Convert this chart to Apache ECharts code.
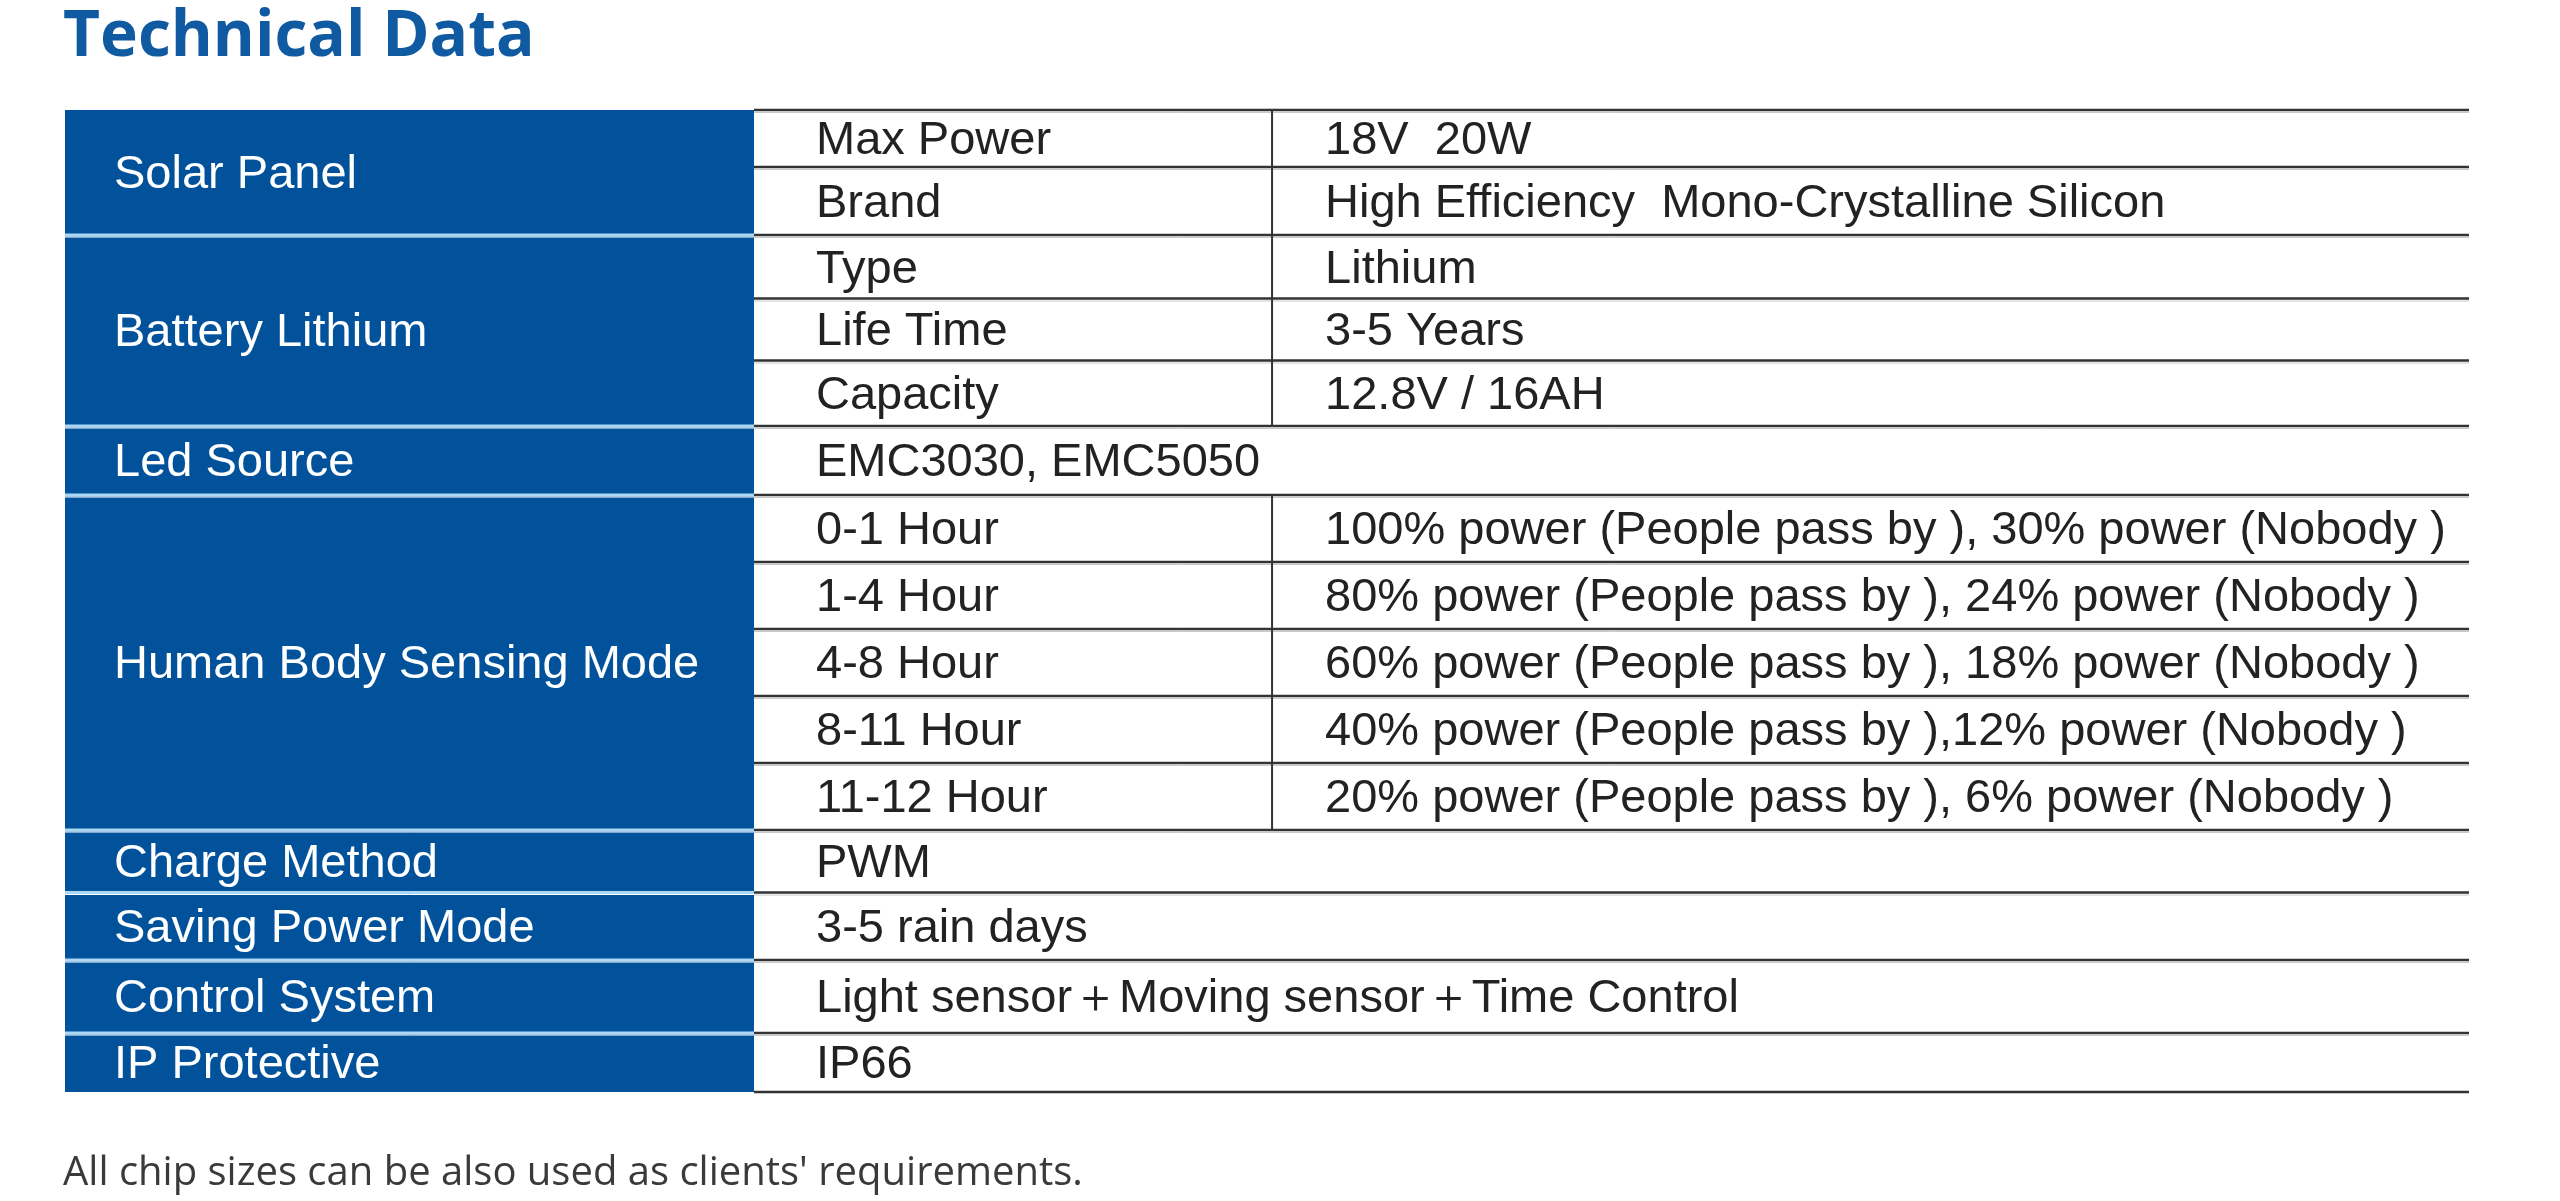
<!DOCTYPE html>
<html>
<head>
<meta charset="utf-8">
<title>Technical Data</title>
<script src="https://cdn.jsdelivr.net/npm/echarts@6/dist/echarts.min.js"></script>
<style>
  html, body { margin: 0; padding: 0; background: #fff; }
  #main { width: 2560px; height: 1201px; }
</style>
</head>
<body>
<div id="main"></div>
<script>
// table content
var groupNames = ['Solar Panel', 'Battery Lithium', 'Led Source', 'Human Body Sensing Mode',
    'Charge Method', 'Saving Power Mode', 'Control System', 'IP Protective'];
var groupRowCounts = [2, 3, 1, 5, 1, 1, 1, 1];

var specNames = ['Max Power', 'Brand', 'Type', 'Life Time', 'Capacity', 'EMC3030, EMC5050',
    '0-1 Hour', '1-4 Hour', '4-8 Hour', '8-11 Hour', '11-12 Hour',
    'PWM', '3-5 rain days', 'Light sensor\uFF0BMoving sensor\uFF0BTime Control', 'IP66'];
var specValues = ['18V  20W', 'High Efficiency  Mono-Crystalline Silicon', 'Lithium', '3-5 Years', '12.8V / 16AH', '',
    '100% power (People pass by ), 30% power (Nobody )',
    '80% power (People pass by ), 24% power (Nobody )',
    '60% power (People pass by ), 18% power (Nobody )',
    '40% power (People pass by ),12% power (Nobody )',
    '20% power (People pass by ), 6% power (Nobody )',
    '', '', '', ''];

var titleText = 'Technical Data';
var noteText = "All chip sizes can be also used as clients' requirements.";

// layout: column edges in % of table width, row heights in relative units
var colEdges = [0, 28.66, 50.21, 100];
var rowHeights = [57, 68, 63.5, 62, 65.5, 69, 67, 67, 67, 67, 67, 62.5, 67.5, 73, 59];
var BLUE = '#02529b';
var FONT = '47px "Liberation Sans", Arial, sans-serif';
var TEXT_DY = 3;

var chart = echarts.init(document.getElementById('main'));

var rowCount = specNames.length;
var rowTops = [0];
for (var r = 0; r < rowHeights.length; r++) rowTops.push(rowTops[r] + rowHeights[r]);
var tableH = rowTops[rowTops.length - 1];

// group data: [groupIndex, startRow, rowCount]
var groupData = [];
var start = 0;
for (var g = 0; g < groupNames.length; g++) {
    groupData.push([g, start, groupRowCounts[g]]);
    start += groupRowCounts[g];
}
var specData = specNames.map(function (n, i) { return [i]; });

function renderGroup(params, api) {
    var g = api.value(0);
    var s = api.value(1);
    var n = api.value(2);
    var p0 = api.coord([colEdges[0], rowTops[s]]);
    var p1 = api.coord([colEdges[1], rowTops[s + n]]);
    var children = [{
        type: 'rect',
        shape: { x: p0[0], y: p0[1], width: p1[0] - p0[0], height: p1[1] - p0[1] },
        style: { fill: BLUE }
    }, {
        type: 'text',
        style: {
            text: groupNames[g], x: p0[0] + 49, y: (p0[1] + p1[1]) / 2 + TEXT_DY,
            fill: '#fff', font: FONT, verticalAlign: 'middle', align: 'left'
        }
    }];
    if (s > 0) {
        children.push({
            type: 'line',
            shape: { x1: p0[0], y1: p0[1], x2: p1[0], y2: p0[1] },
            style: { stroke: '#a9d8f5', lineWidth: 3 }
        });
        children.push({
            type: 'line',
            shape: { x1: p0[0], y1: p0[1] + 2, x2: p1[0], y2: p0[1] + 2 },
            style: { stroke: '#ffffff', lineWidth: 1 }
        });
    }
    return { type: 'group', children: children };
}

function renderSpec(params, api) {
    var i = api.value(0);
    var a = api.coord([colEdges[1], rowTops[i]]);
    var m = api.coord([colEdges[2], rowTops[i + 1]]);
    var b = api.coord([colEdges[3], rowTops[i + 1]]);
    var cy = (a[1] + m[1]) / 2 + TEXT_DY;
    var children = [{
        type: 'line',
        shape: { x1: a[0], y1: a[1], x2: b[0], y2: a[1] },
        style: { stroke: '#333', lineWidth: 2.5 }
    }, {
        type: 'line',
        shape: { x1: a[0], y1: a[1] + 2.5, x2: b[0], y2: a[1] + 2.5 },
        style: { stroke: '#c8c8c8', lineWidth: 1 }
    }, {
        type: 'text',
        style: {
            text: specNames[i], x: a[0] + 62, y: cy,
            fill: '#222', font: FONT, verticalAlign: 'middle', align: 'left'
        }
    }];
    if (specValues[i] !== '') {
        children.push({
            type: 'line',
            shape: { x1: m[0], y1: a[1], x2: m[0], y2: m[1] },
            style: { stroke: '#333', lineWidth: 2 }
        });
        children.push({
            type: 'text',
            style: {
                text: specValues[i], x: m[0] + 53, y: cy,
                fill: '#222', font: FONT, verticalAlign: 'middle', align: 'left'
            }
        });
    }
    if (i === rowCount - 1) {
        children.push({
            type: 'line',
            shape: { x1: a[0], y1: b[1], x2: b[0], y2: b[1] },
            style: { stroke: '#333', lineWidth: 2.5 }
        });
    }
    return { type: 'group', children: children };
}

var option = {
    backgroundColor: '#fff',
    animation: false,
    title: [{
        text: titleText,
        left: 63, top: 6, padding: 0,
        textStyle: { color: '#0f5aa0', fontFamily: '"Open Sans"', fontWeight: 'bold', fontSize: 64 }
    }, {
        text: noteText,
        left: 63, top: 1154, padding: 0,
        textStyle: { color: '#3a3a3a', fontFamily: '"Open Sans"', fontWeight: 'normal', fontSize: 40 }
    }],
    grid: { left: 65, right: 91, top: 110, bottom: 109 },
    xAxis: { type: 'value', min: 0, max: 100, show: false },
    yAxis: { type: 'value', min: 0, max: tableH, inverse: true, show: false },
    series: [{
        type: 'custom',
        renderItem: renderSpec,
        data: specData,
        encode: { x: -1, y: 0 },
        silent: true
    }, {
        type: 'custom',
        renderItem: renderGroup,
        data: groupData,
        encode: { x: -1, y: 1 },
        silent: true
    }]
};

option && chart.setOption(option);
</script>
</body>
</html>
